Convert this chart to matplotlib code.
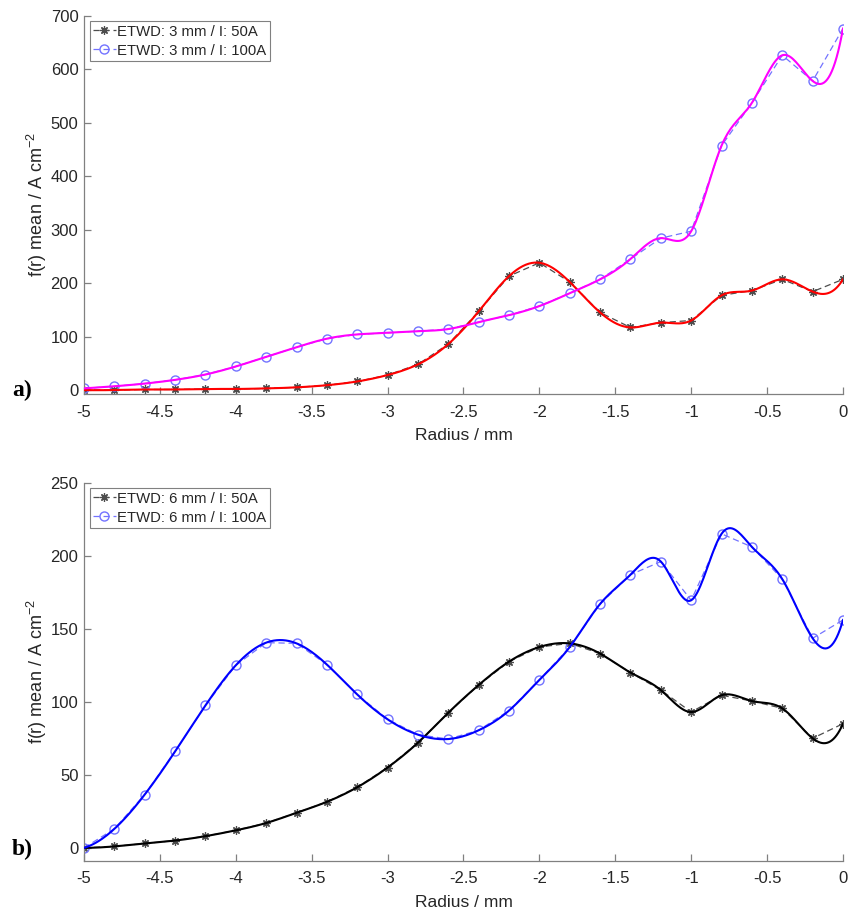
import numpy as np
import matplotlib
matplotlib.use("Agg")
import matplotlib.pyplot as plt

radius = np.round(np.arange(-5.0, 0.01, 0.2), 2)

a_50A = [0, 0, 1, 1, 2, 2, 3, 5, 9, 16, 28, 48, 86, 147, 213, 238, 202, 145,
         117, 126, 130, 177, 186, 207, 184, 207]
a_100A = [3, 7, 12, 19, 29, 44, 62, 80, 96, 104, 107, 110, 114, 127, 140, 157,
          181, 207, 245, 284, 297, 457, 537, 626, 578, 676]

b_50A = [0, 1, 3, 5, 8, 12, 17, 24, 31.5, 41.5, 55, 72, 92.5, 111.5, 127.5,
         137.5, 140, 133, 120, 108, 93, 104.5, 100.5, 95.5, 75, 85]
b_100A = [0, 13, 36.5, 66, 97.5, 125, 140.5, 140, 125.5, 105, 88, 77.5, 74.5,
          80.5, 94, 115, 137.5, 167, 187, 196, 169.5, 215, 206, 184, 143.5, 156]

labels_a = ["ETWD: 3 mm / I: 50A", "ETWD: 3 mm / I: 100A"]
labels_b = ["ETWD: 6 mm / I: 50A", "ETWD: 6 mm / I: 100A"]
xtick_labels = ['-5', '-4.5', '-4', '-3.5', '-3', '-2.5', '-2', '-1.5', '-1', '-0.5', '0']


def spline(x, y, n=20):
    """Not-a-knot cubic spline through the data points (as MATLAB's spline)."""
    x = np.asarray(x, float); y = np.asarray(y, float)
    N = len(x); h = np.diff(x)
    A = np.zeros((N, N)); r = np.zeros(N)
    for i in range(1, N - 1):
        A[i, i - 1] = h[i - 1]; A[i, i] = 2 * (h[i - 1] + h[i]); A[i, i + 1] = h[i]
        r[i] = 6 * ((y[i + 1] - y[i]) / h[i] - (y[i] - y[i - 1]) / h[i - 1])
    A[0, 0] = h[1]; A[0, 1] = -(h[0] + h[1]); A[0, 2] = h[0]
    A[-1, -3] = h[-1]; A[-1, -2] = -(h[-2] + h[-1]); A[-1, -1] = h[-2]
    M = np.linalg.solve(A, r)
    xs, ys = [], []
    for i in range(N - 1):
        t = np.linspace(x[i], x[i + 1], n, endpoint=(i == N - 2))
        a = x[i + 1] - t; b = t - x[i]
        s = (M[i] * a ** 3 + M[i + 1] * b ** 3) / (6 * h[i]) \
            + (y[i] / h[i] - M[i] * h[i] / 6) * a + (y[i + 1] / h[i] - M[i + 1] * h[i] / 6) * b
        xs.append(t); ys.append(s)
    return np.concatenate(xs), np.concatenate(ys)


plt.rcParams['font.family'] = ['Liberation Sans', 'DejaVu Sans']
plt.rcParams['mathtext.fontset'] = 'custom'
plt.rcParams['mathtext.rm'] = 'Liberation Sans'
plt.rcParams['axes.unicode_minus'] = False
fig = plt.figure(figsize=(8.54, 9.10), dpi=100)
ax1 = fig.add_axes([84 / 854, 1 - 394.3 / 910, 759 / 854, 378.6 / 910])
ax2 = fig.add_axes([84 / 854, 1 - 861 / 910, 759 / 854, 378.3 / 910])

dk = (0.3, 0.3, 0.3)
lb = (0.45, 0.45, 1.0)
txt = (0.15, 0.15, 0.15)
star = (8, 2, 0)


def panel(ax, y50, y100, c50, c100, labels, ylim, yticks):
    ax.plot(radius, y50, '--', color=dk, lw=0.9, marker=star, ms=6, mfc=dk, mec=dk, mew=0.9,
            dashes=(5, 3), label=labels[0], zorder=2)
    ax.plot(radius, y100, '--', color=lb, lw=0.9, marker='o', ms=6.5, mfc='none', mec=lb,
            dashes=(5, 3), label=labels[1], zorder=2)
    xs, ys = spline(radius, y50)
    ax.plot(xs, ys, '-', color=c50, lw=1.5, zorder=3)
    xs, ys = spline(radius, y100)
    ax.plot(xs, ys, '-', color=c100, lw=1.5, zorder=3)
    ax.set_xlim(-5, 0)
    ax.set_ylim(*ylim)
    ax.set_yticks(yticks)
    ax.set_xticks(np.arange(-5, 0.01, 0.5))
    ax.set_xticklabels(xtick_labels)
    for s in ['top', 'right']:
        ax.spines[s].set_visible(False)
    for s in ['left', 'bottom']:
        ax.spines[s].set_color((0.5, 0.5, 0.5))
        ax.spines[s].set_linewidth(0.9)
    ax.tick_params(direction='in', length=5, width=0.9, color=(0.5, 0.5, 0.5),
                   labelsize=12, labelcolor=txt)
    ax.tick_params(axis='x', pad=7.5)
    ax.tick_params(axis='y', pad=4)
    ax.set_xlabel('Radius / mm', fontsize=12.5, color=txt, labelpad=6)
    ax.set_ylabel(r'f(r) mean / A cm$^{\mathregular{-2}}$', fontsize=13, color=txt, labelpad=1)
    leg = ax.legend(loc='upper left', bbox_to_anchor=(0.008, 0.985), fontsize=10.7,
                    handlelength=1.5, handletextpad=0.1, borderpad=0.22, labelspacing=0.33,
                    fancybox=False, framealpha=1, borderaxespad=0)
    leg.get_frame().set_edgecolor((0.5, 0.5, 0.5))
    leg.get_frame().set_linewidth(0.8)
    for t in leg.get_texts():
        t.set_color(txt)


panel(ax1, a_50A, a_100A, (1, 0, 0), (1, 0, 1), labels_a, (-8, 700), np.arange(0, 701, 100))
panel(ax2, b_50A, b_100A, (0, 0, 0), (0, 0, 1), labels_b, (-9, 250), np.arange(0, 251, 50))

fig.text(12 / 854, 1 - 390 / 910, 'a)', fontsize=17, fontweight='bold',
         family=['Liberation Serif', 'DejaVu Serif'], va='center', ha='left')
fig.text(12 / 854, 1 - 849 / 910, 'b)', fontsize=17, fontweight='bold',
         family=['Liberation Serif', 'DejaVu Serif'], va='center', ha='left')

fig.savefig('out.png', dpi=100)
